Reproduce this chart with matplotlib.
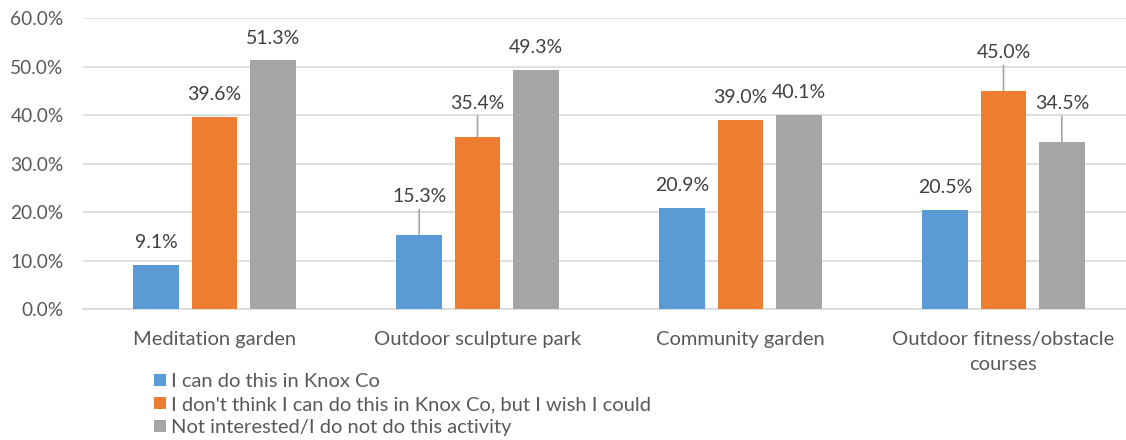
import numpy as np
import matplotlib
matplotlib.use("Agg")
import matplotlib.pyplot as plt

plt.rcParams['font.family'] = ['Lato', 'DejaVu Sans']

categories = ["Meditation garden", "Outdoor sculpture park", "Community garden",
              "Outdoor fitness/obstacle\ncourses"]
series_names = ["I can do this in Knox Co",
                "I don't think I can do this in Knox Co, but I wish I could",
                "Not interested/I do not do this activity"]
can_do = [9.1, 15.3, 20.9, 20.5]
wish = [39.6, 35.4, 39.0, 45.0]
not_interested = [51.3, 49.3, 40.1, 34.5]
yticks = [0, 10, 20, 30, 40, 50, 60]

# which labels Excel pushed up with a leader line
leader = [[False, True, False, False],
          [False, True, False, True],
          [False, False, False, True]]

colors = ["#5B9BD5", "#ED7D31", "#A5A5A5"]
txt = "#595959"

fig = plt.figure(figsize=(11.26, 4.4), dpi=100)
ax = fig.add_axes([83 / 1126, 131 / 440, 1052 / 1126, 291 / 440])

x = np.arange(len(categories))
step = 0.2217
width = 0.173
handles = []
for i, vals in enumerate([can_do, wish, not_interested]):
    pos = x + (i - 1) * step
    b = ax.bar(pos, vals, width, color=colors[i], label=series_names[i], zorder=3)
    handles.append(b)
    for j, v in enumerate(vals):
        if leader[i][j]:
            off = 38 if not (i == 1 and j == 1) else 34
            ax.annotate(f"{v:.1f}%", xy=(pos[j], v), xytext=(0, off * 0.72),
                        textcoords="offset points", ha="center", va="center",
                        fontsize=14, color="#404040",
                        arrowprops=dict(arrowstyle="-", color="#A6A6A6", lw=1.2,
                                        shrinkA=1, shrinkB=0))
        else:
            ax.annotate(f"{v:.1f}%", xy=(pos[j], v), xytext=(0, 22 * 0.72),
                        textcoords="offset points", ha="center", va="center",
                        fontsize=14, color="#404040")

ax.set_xlim(-0.5, len(categories) - 0.5)
ax.set_ylim(0, 60)
ax.set_yticks(yticks)
ax.set_yticklabels([f"{t:.1f}%" for t in yticks])
ax.set_xticks(x)
ax.set_xticklabels(categories)
for lbl in ax.get_xticklabels():
    lbl.set_linespacing(1.55)
ax.yaxis.grid(True, color="#D9D9D9", lw=1.2, zorder=0)
for s in ["top", "right", "left"]:
    ax.spines[s].set_visible(False)
ax.spines["bottom"].set_color("#D9D9D9")
ax.spines["bottom"].set_linewidth(1.2)
ax.tick_params(axis="y", length=0, pad=14, labelsize=13.8, labelcolor=txt)
ax.tick_params(axis="x", length=0, pad=16, labelsize=14.5, labelcolor=txt)

fig.legend(handles=handles, loc="upper left", bbox_to_anchor=(154 / 1126, 1 - 373 / 440),
           frameon=False, fontsize=14.5, labelcolor=txt, handlelength=0.6,
           handleheight=0.6, handletextpad=0.25, labelspacing=0.3, borderpad=0,
           borderaxespad=0)

fig.savefig("out.png", dpi=100)
